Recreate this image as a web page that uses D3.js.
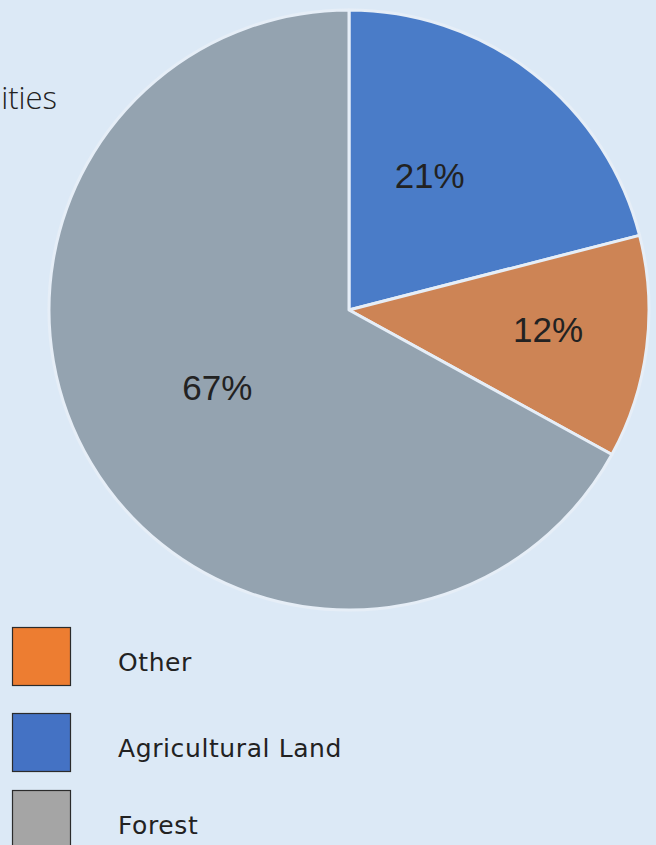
<!DOCTYPE html>
<html><head><meta charset="utf-8">
<script src="https://cdn.jsdelivr.net/npm/d3@7"></script>
<style>
html,body{margin:0;padding:0;background:#dce9f6;}
svg{display:block;}
</style></head>
<body>
<script>
const categories = ["Agricultural Land", "Other", "Forest"];
const values = [21, 12, 67];
const pieColors = ["#4a7cc8", "#cd8455", "#94a3b0"];
const legendOrder = ["Other", "Agricultural Land", "Forest"];
const legendColors = {"Other": "#ed7d31", "Agricultural Land": "#4472c4", "Forest": "#a5a5a5"};
const titleFragment = "ities";

const W = 656, H = 845;
const svg = d3.select("body").append("svg").attr("width", W).attr("height", H);
svg.append("rect").attr("width", W).attr("height", H).attr("fill", "#dce9f6");

svg.append("text").attr("x", 57).attr("y", 109).attr("text-anchor", "end")
  .attr("font-family", "'Open Sans', sans-serif").attr("font-weight", 300)
  .attr("font-size", 31).attr("fill", "#222").text(titleFragment);

const cx = 349, cy = 310, R = 300;
const data = categories.map((c, i) => ({cat: c, value: values[i], color: pieColors[i]}));
const pie = d3.pie().value(d => d.value).sort(null);
const arcs = pie(data);
const arc = d3.arc().innerRadius(0).outerRadius(R);
const g = svg.append("g").attr("transform", `translate(${cx},${cy})`);
g.selectAll("path").data(arcs).join("path")
  .attr("d", arc).attr("fill", d => d.data.color)
  .attr("stroke", "#e6eef7").attr("stroke-width", 3).attr("stroke-linejoin", "round");

const labelRadius = {"Agricultural Land": 157, "Other": 200, "Forest": 153};
const labelShift = {"Agricultural Land": -0.12, "Other": -0.028, "Forest": 0};
g.selectAll("text.lbl").data(arcs).join("text").attr("class", "lbl")
  .attr("transform", d => {
    const a = (d.startAngle + d.endAngle) / 2 + labelShift[d.data.cat];
    const r = labelRadius[d.data.cat];
    return `translate(${Math.sin(a) * r},${-Math.cos(a) * r})`;
  })
  .attr("text-anchor", "middle").attr("dy", "0.36em")
  .attr("font-family", "'Liberation Sans', Arial, sans-serif")
  .attr("font-size", 35).attr("fill", "#222")
  .text(d => d.data.value + "%");

const lg = svg.append("g");
const ly = d3.scaleOrdinal().domain(legendOrder).range([627, 713, 790]);
legendOrder.forEach(c => {
  lg.append("rect").attr("x", 12.5).attr("y", ly(c) + 0.5).attr("width", 58).attr("height", 58)
    .attr("fill", legendColors[c]).attr("stroke", "#2b2b2b").attr("stroke-width", 1.2);
  lg.append("text").attr("x", 118).attr("y", ly(c) + 44)
    .attr("font-family", "'DejaVu Sans', sans-serif").attr("font-size", 25)
    .attr("letter-spacing", 0.6)
    .attr("fill", "#222")
    .text(c);
});
</script>
</body></html>
